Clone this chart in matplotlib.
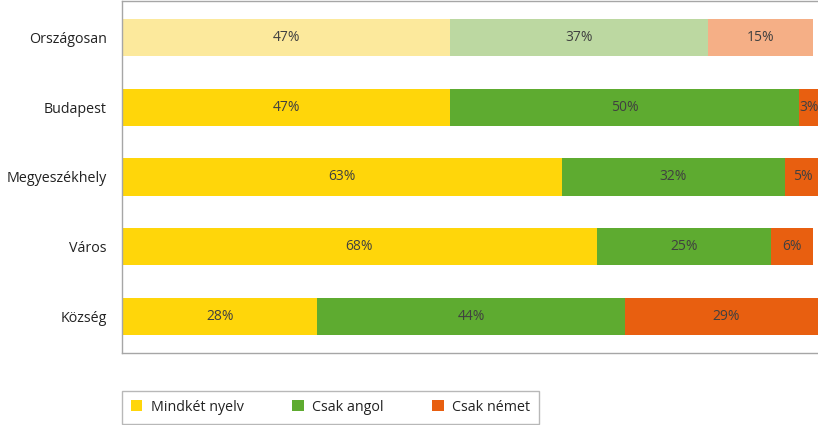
import matplotlib
matplotlib.use("Agg")
import matplotlib.pyplot as plt
from matplotlib.patches import Patch

categories = ["Országosan", "Budapest", "Megyeszékhely", "Város", "Község"]
series_names = ["Mindkét nyelv", "Csak angol", "Csak német"]
both = [47, 47, 63, 68, 28]
english = [37, 50, 32, 25, 44]
german = [15, 3, 5, 6, 29]

colors = ["#FFD60A", "#5EAB30", "#E85F10"]
faded = ["#FCE99C", "#BCD8A1", "#F5AF86"]

plt.rcParams['font.family'] = ['Open Sans', 'DejaVu Sans']
txt = "#404040"

fig = plt.figure(figsize=(8.18, 4.25), dpi=100)
ax = fig.add_axes([122/818, 1 - 353/425, 698/818, 352/425])

values = [both, english, german]
lefts = [0] * len(categories)
for si, vals in enumerate(values):
    for ci, v in enumerate(vals):
        col = faded[si] if ci == 0 else colors[si]
        ax.barh(ci, v, left=lefts[ci], height=0.53, color=col, edgecolor='none')
        ax.text(lefts[ci] + v / 2, ci, f"{v}%", ha='center', va='center',
                fontsize=10, color=txt)
    lefts = [l + v for l, v in zip(lefts, vals)]

ax.set_xlim(0, 100)
ax.set_ylim(4.52, -0.52)
ax.set_yticks(range(len(categories)))
ax.set_yticklabels(categories, fontsize=10.3, color="#222222")
ax.tick_params(axis='y', length=0, pad=11)
ax.set_xticks([])
for s in ax.spines.values():
    s.set_color("#A6A6A6")
    s.set_linewidth(1.0)

handles = [Patch(facecolor=c, edgecolor='none') for c in colors]
leg = fig.legend(handles, series_names, loc='lower left',
                 bbox_to_anchor=(122/818, 1.5/425), ncol=3, frameon=True,
                 fontsize=10.3, handlelength=0.8, handleheight=0.8,
                 columnspacing=3.4, handletextpad=0.6, borderpad=0.6,
                 borderaxespad=0.0, fancybox=False)
leg.get_frame().set_edgecolor("#A6A6A6")
leg.get_frame().set_linewidth(1.0)
for t in leg.get_texts():
    t.set_color("#222222")

fig.savefig("out.png", dpi=100)
